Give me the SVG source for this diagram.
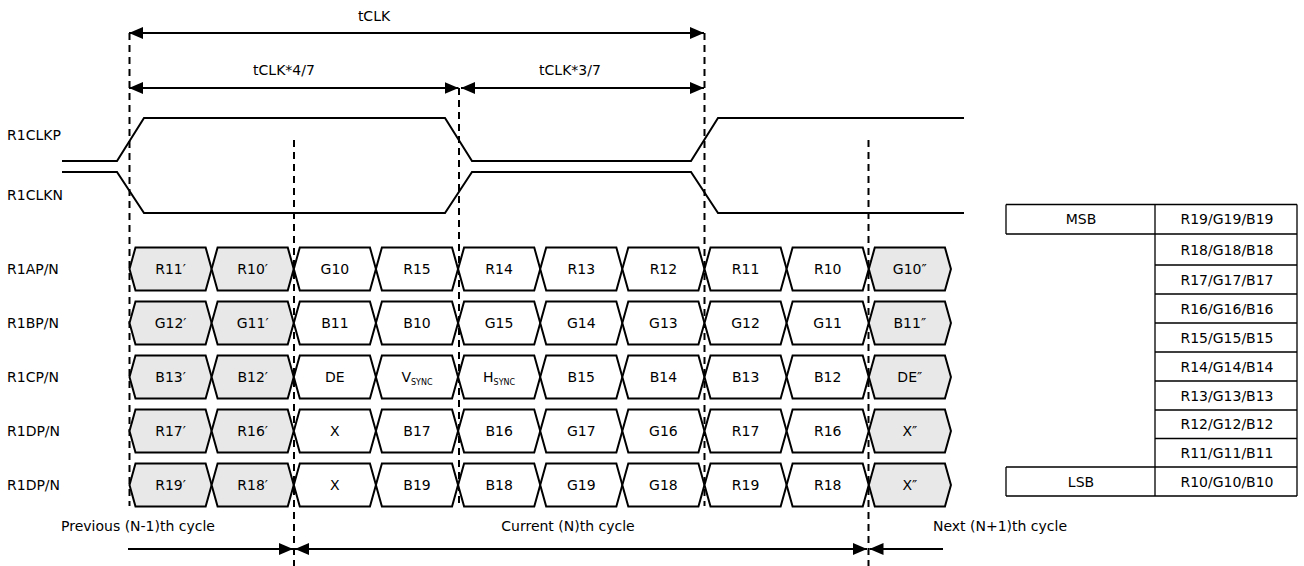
<svg xmlns="http://www.w3.org/2000/svg" xmlns:xlink="http://www.w3.org/1999/xlink" width="1304" height="566" viewBox="0 0 1304 566">
<style>
text{font-family:"DejaVu Sans","Liberation Sans",sans-serif;font-size:14px;fill:#000}
.c{text-anchor:middle}
.sub{font-size:8px}
.wave{fill:none;stroke:#000;stroke-width:2;stroke-linejoin:miter}
.dash{stroke:#000;stroke-width:2;stroke-dasharray:7 5;fill:none}
.arr{stroke:#000;stroke-width:2;fill:none}
.dbl{marker-start:url(#ah);marker-end:url(#ah)}
.end{marker-end:url(#ah)}
.cell{stroke:#000;stroke-width:2;stroke-linejoin:miter}
.g{fill:#e8e8e8}
.w{fill:#fff}
.tb{stroke:#000;stroke-width:1.3;fill:none}
</style>
<defs>
<marker id="ah" viewBox="0 0 14 12" refX="14" refY="6" markerWidth="14" markerHeight="12" markerUnits="userSpaceOnUse" orient="auto-start-reverse">
<path d="M0,0 L14,6 L0,12 Z" fill="#000"/>
</marker>
<path id="hex" d="M0,0 L6,-21.5 L76.14,-21.5 L82.14,0 L76.14,21.5 L6,21.5 Z"/>
</defs>
<rect width="1304" height="566" fill="#fff"/>

<g id="connectors">
<line class="dash" x1="129.5" y1="33" x2="129.5" y2="506"/>
<line class="dash" x1="294" y1="140" x2="294" y2="566"/>
<line class="dash" x1="459" y1="88" x2="459" y2="506"/>
<line class="dash" x1="704.5" y1="33" x2="704.5" y2="506"/>
<line class="dash" x1="868.5" y1="140" x2="868.5" y2="566"/>
<line class="arr dbl" x1="129" y1="33" x2="704" y2="33"/>
<line class="arr dbl" x1="129" y1="88" x2="458.5" y2="88"/>
<line class="arr dbl" x1="461" y1="88" x2="704" y2="88"/>
<line class="arr end" x1="128" y1="549" x2="293" y2="549"/>
<line class="arr dbl" x1="295" y1="549" x2="867" y2="549"/>
<line class="arr end" x1="943" y1="549" x2="869.5" y2="549"/>
</g>

<g id="labels-top">
<text class="c" x="374" y="21">tCLK</text>
<text class="c" x="284" y="75">tCLK*4/7</text>
<text class="c" x="570" y="75">tCLK*3/7</text>
</g>

<g id="labels-left">
<text x="7" y="140">R1CLKP</text>
<text x="7" y="200">R1CLKN</text>
<text x="7" y="274">R1AP/N</text>
<text x="7" y="328">R1BP/N</text>
<text x="7" y="382">R1CP/N</text>
<text x="7" y="436">R1DP/N</text>
<text x="7" y="490">R1DP/N</text>
</g>

<g id="clkp"><path class="wave" d="M62,161 H117 L144,118 H445 L472,161 H691 L718,118 H964"/></g>
<g id="clkn"><path class="wave" d="M62,172 H117 L144,213 H445 L472,172 H691 L718,213 H964"/></g>

<g id="row-a">
<g id="a1"><use href="#hex" xlink:href="#hex" class="cell g" x="129.5" y="269"/><text class="c" x="170.6" y="274">R11′</text></g>
<g id="a2"><use href="#hex" xlink:href="#hex" class="cell g" x="211.6" y="269"/><text class="c" x="252.7" y="274">R10′</text></g>
<g id="a3"><use href="#hex" xlink:href="#hex" class="cell w" x="293.8" y="269"/><text class="c" x="334.9" y="274">G10</text></g>
<g id="a4"><use href="#hex" xlink:href="#hex" class="cell w" x="375.9" y="269"/><text class="c" x="417" y="274">R15</text></g>
<g id="a5"><use href="#hex" xlink:href="#hex" class="cell w" x="458.1" y="269"/><text class="c" x="499.1" y="274">R14</text></g>
<g id="a6"><use href="#hex" xlink:href="#hex" class="cell w" x="540.2" y="269"/><text class="c" x="581.3" y="274">R13</text></g>
<g id="a7"><use href="#hex" xlink:href="#hex" class="cell w" x="622.3" y="269"/><text class="c" x="663.4" y="274">R12</text></g>
<g id="a8"><use href="#hex" xlink:href="#hex" class="cell w" x="704.5" y="269"/><text class="c" x="745.6" y="274">R11</text></g>
<g id="a9"><use href="#hex" xlink:href="#hex" class="cell w" x="786.6" y="269"/><text class="c" x="827.7" y="274">R10</text></g>
<g id="a10"><use href="#hex" xlink:href="#hex" class="cell g" x="868.8" y="269"/><text class="c" x="909.8" y="274">G10″</text></g>
</g>

<g id="row-b">
<g id="b1"><use href="#hex" xlink:href="#hex" class="cell g" x="129.5" y="323"/><text class="c" x="170.6" y="328">G12′</text></g>
<g id="b2"><use href="#hex" xlink:href="#hex" class="cell g" x="211.6" y="323"/><text class="c" x="252.7" y="328">G11′</text></g>
<g id="b3"><use href="#hex" xlink:href="#hex" class="cell w" x="293.8" y="323"/><text class="c" x="334.9" y="328">B11</text></g>
<g id="b4"><use href="#hex" xlink:href="#hex" class="cell w" x="375.9" y="323"/><text class="c" x="417" y="328">B10</text></g>
<g id="b5"><use href="#hex" xlink:href="#hex" class="cell w" x="458.1" y="323"/><text class="c" x="499.1" y="328">G15</text></g>
<g id="b6"><use href="#hex" xlink:href="#hex" class="cell w" x="540.2" y="323"/><text class="c" x="581.3" y="328">G14</text></g>
<g id="b7"><use href="#hex" xlink:href="#hex" class="cell w" x="622.3" y="323"/><text class="c" x="663.4" y="328">G13</text></g>
<g id="b8"><use href="#hex" xlink:href="#hex" class="cell w" x="704.5" y="323"/><text class="c" x="745.6" y="328">G12</text></g>
<g id="b9"><use href="#hex" xlink:href="#hex" class="cell w" x="786.6" y="323"/><text class="c" x="827.7" y="328">G11</text></g>
<g id="b10"><use href="#hex" xlink:href="#hex" class="cell g" x="868.8" y="323"/><text class="c" x="909.8" y="328">B11″</text></g>
</g>

<g id="row-c">
<g id="c1"><use href="#hex" xlink:href="#hex" class="cell g" x="129.5" y="377"/><text class="c" x="170.6" y="382">B13′</text></g>
<g id="c2"><use href="#hex" xlink:href="#hex" class="cell g" x="211.6" y="377"/><text class="c" x="252.7" y="382">B12′</text></g>
<g id="c3"><use href="#hex" xlink:href="#hex" class="cell w" x="293.8" y="377"/><text class="c" x="334.9" y="382">DE</text></g>
<g id="c4"><use href="#hex" xlink:href="#hex" class="cell w" x="375.9" y="377"/><text class="c" x="417" y="382">V<tspan class="sub" dy="3">SYNC</tspan></text></g>
<g id="c5"><use href="#hex" xlink:href="#hex" class="cell w" x="458.1" y="377"/><text class="c" x="499.1" y="382">H<tspan class="sub" dy="3">SYNC</tspan></text></g>
<g id="c6"><use href="#hex" xlink:href="#hex" class="cell w" x="540.2" y="377"/><text class="c" x="581.3" y="382">B15</text></g>
<g id="c7"><use href="#hex" xlink:href="#hex" class="cell w" x="622.3" y="377"/><text class="c" x="663.4" y="382">B14</text></g>
<g id="c8"><use href="#hex" xlink:href="#hex" class="cell w" x="704.5" y="377"/><text class="c" x="745.6" y="382">B13</text></g>
<g id="c9"><use href="#hex" xlink:href="#hex" class="cell w" x="786.6" y="377"/><text class="c" x="827.7" y="382">B12</text></g>
<g id="c10"><use href="#hex" xlink:href="#hex" class="cell g" x="868.8" y="377"/><text class="c" x="909.8" y="382">DE″</text></g>
</g>

<g id="row-d1">
<g id="d1"><use href="#hex" xlink:href="#hex" class="cell g" x="129.5" y="431"/><text class="c" x="170.6" y="436">R17′</text></g>
<g id="d2"><use href="#hex" xlink:href="#hex" class="cell g" x="211.6" y="431"/><text class="c" x="252.7" y="436">R16′</text></g>
<g id="d3"><use href="#hex" xlink:href="#hex" class="cell w" x="293.8" y="431"/><text class="c" x="334.9" y="436">X</text></g>
<g id="d4"><use href="#hex" xlink:href="#hex" class="cell w" x="375.9" y="431"/><text class="c" x="417" y="436">B17</text></g>
<g id="d5"><use href="#hex" xlink:href="#hex" class="cell w" x="458.1" y="431"/><text class="c" x="499.1" y="436">B16</text></g>
<g id="d6"><use href="#hex" xlink:href="#hex" class="cell w" x="540.2" y="431"/><text class="c" x="581.3" y="436">G17</text></g>
<g id="d7"><use href="#hex" xlink:href="#hex" class="cell w" x="622.3" y="431"/><text class="c" x="663.4" y="436">G16</text></g>
<g id="d8"><use href="#hex" xlink:href="#hex" class="cell w" x="704.5" y="431"/><text class="c" x="745.6" y="436">R17</text></g>
<g id="d9"><use href="#hex" xlink:href="#hex" class="cell w" x="786.6" y="431"/><text class="c" x="827.7" y="436">R16</text></g>
<g id="d10"><use href="#hex" xlink:href="#hex" class="cell g" x="868.8" y="431"/><text class="c" x="909.8" y="436">X″</text></g>
</g>

<g id="row-d2">
<g id="e1"><use href="#hex" xlink:href="#hex" class="cell g" x="129.5" y="485"/><text class="c" x="170.6" y="490">R19′</text></g>
<g id="e2"><use href="#hex" xlink:href="#hex" class="cell g" x="211.6" y="485"/><text class="c" x="252.7" y="490">R18′</text></g>
<g id="e3"><use href="#hex" xlink:href="#hex" class="cell w" x="293.8" y="485"/><text class="c" x="334.9" y="490">X</text></g>
<g id="e4"><use href="#hex" xlink:href="#hex" class="cell w" x="375.9" y="485"/><text class="c" x="417" y="490">B19</text></g>
<g id="e5"><use href="#hex" xlink:href="#hex" class="cell w" x="458.1" y="485"/><text class="c" x="499.1" y="490">B18</text></g>
<g id="e6"><use href="#hex" xlink:href="#hex" class="cell w" x="540.2" y="485"/><text class="c" x="581.3" y="490">G19</text></g>
<g id="e7"><use href="#hex" xlink:href="#hex" class="cell w" x="622.3" y="485"/><text class="c" x="663.4" y="490">G18</text></g>
<g id="e8"><use href="#hex" xlink:href="#hex" class="cell w" x="704.5" y="485"/><text class="c" x="745.6" y="490">R19</text></g>
<g id="e9"><use href="#hex" xlink:href="#hex" class="cell w" x="786.6" y="485"/><text class="c" x="827.7" y="490">R18</text></g>
<g id="e10"><use href="#hex" xlink:href="#hex" class="cell g" x="868.8" y="485"/><text class="c" x="909.8" y="490">X″</text></g>
</g>

<g id="labels-bottom">
<text class="c" x="138" y="531">Previous (N-1)th cycle</text>
<text class="c" x="568" y="531">Current (N)th cycle</text>
<text class="c" x="1000" y="531">Next (N+1)th cycle</text>
</g>

<g id="bit-table">
<path class="tb" d="M1006,204.5 H1297 M1006,234 H1297 M1155,265 H1297 M1155,294 H1297 M1155,323 H1297 M1155,352 H1297 M1155,381 H1297 M1155,410 H1297 M1155,438.5 H1297 M1006,467 H1297 M1006,496 H1297 M1006,204.5 V234 M1006,467 V496 M1155,204.5 V496 M1297,204.5 V496"/>
<text class="c" x="1081" y="224">MSB</text>
<text class="c" x="1081" y="486.5">LSB</text>
<text class="c" x="1227" y="224">R19/G19/B19</text>
<text class="c" x="1227" y="254.5">R18/G18/B18</text>
<text class="c" x="1227" y="284.5">R17/G17/B17</text>
<text class="c" x="1227" y="313.5">R16/G16/B16</text>
<text class="c" x="1227" y="342.5">R15/G15/B15</text>
<text class="c" x="1227" y="371.5">R14/G14/B14</text>
<text class="c" x="1227" y="400.5">R13/G13/B13</text>
<text class="c" x="1227" y="429">R12/G12/B12</text>
<text class="c" x="1227" y="457.5">R11/G11/B11</text>
<text class="c" x="1227" y="486.5">R10/G10/B10</text>
</g>
</svg>
